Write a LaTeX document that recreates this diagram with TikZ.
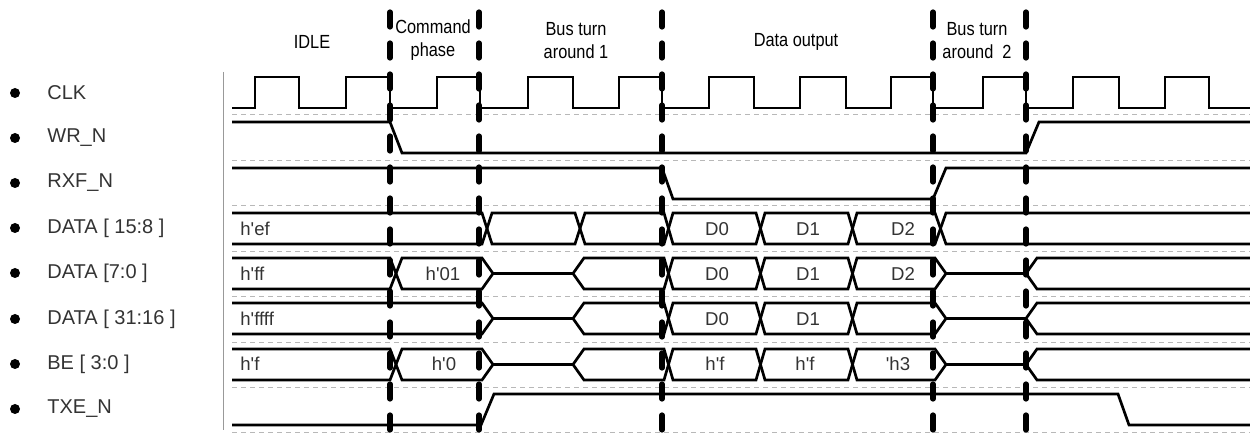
\documentclass[tikz,border=0pt]{standalone}
\usepackage{fontspec}
\setmainfont{Liberation Sans}[Ligatures=TeXOff]
\newfontfamily\narrowfont{Liberation Sans}[FakeStretch=0.86]
\usepackage{tikz}
\tikzstyle{wave} = [line width=1.35pt, line join=miter]
\tikzstyle{phase} = [line width=2.6pt, dash pattern=on 7.5pt off 8pt, line cap=round]
\tikzstyle{rowline} = [black!28, line width=0.5pt, dash pattern=on 2.5pt off 2pt]
\tikzstyle{bullet} = [fill=black, circle, inner sep=0pt, minimum size=5pt]
\tikzstyle{signame} = [anchor=west, inner sep=0pt, text=black!80, font={\fontsize{10}{12}\selectfont}]
\tikzstyle{val} = [inner sep=0pt, text=black!80, font={\fontsize{9.3}{11}\selectfont}]
\tikzstyle{title} = [align=center, inner sep=0pt, font={\narrowfont\fontsize{9.5}{11.5}\selectfont}]

\begin{document}
\begin{tikzpicture}[x=0.5pt, y=-0.5pt]
    \useasboundingbox (0,0) rectangle (1250,438);
    % phase titles
    \node[title](idle) at (312,42){IDLE};
    \node[title](cmd) at (433,40.5){Command\\phase};
    \node[title](bta1) at (576,40.5){Bus turn\\around 1};
    \node[title](dout) at (796,42){Data output};
    \node[title](bta2) at (977,40.5){Bus turn\\around\ \ 2};
    % signal names
    \node[bullet](b1) at (15,93){};
    \node[bullet](b2) at (15,138){};
    \node[bullet](b3) at (15,183){};
    \node[bullet](b4) at (15,228){};
    \node[bullet](b5) at (15,273){};
    \node[bullet](b6) at (15,319){};
    \node[bullet](b7) at (15,364){};
    \node[bullet](b8) at (15,409){};
    \node[signame](clk) at (47,93){CLK};
    \node[signame](wrn) at (47,138){WR\_N};
    \node[signame](rxfn) at (47,183){RXF\_N};
    \node[signame](dhi) at (47,228){DATA [ 15:8 ]};
    \node[signame](dlo) at (47,273){DATA [7:0 ]};
    \node[signame](dup) at (47,319){DATA [ 31:16 ]};
    \node[signame](be) at (47,364){BE [ 3:0 ]};
    \node[signame](txen) at (47,409){TXE\_N};
    \draw[black!40, line width=0.5pt] (223,72) -- (223,430);
    % row separators
    \draw[rowline] (232,115) -- (1250,115);
    \draw[rowline] (232,160.5) -- (1250,160.5);
    \draw[rowline] (232,206) -- (1250,206);
    \draw[rowline] (232,251.5) -- (1250,251.5);
    \draw[rowline] (232,297) -- (1250,297);
    \draw[rowline] (232,342.5) -- (1250,342.5);
    \draw[rowline] (232,388) -- (1250,388);
    \draw[rowline] (232,433) -- (1250,433);
    % CLK
    \draw[wave] (232,108) -- (255,108) -- (255,77) -- (299,77) -- (299,108) -- (346,108) -- (346,77)
      -- (390,77) -- (390,108) -- (437,108) -- (437,77) -- (480,77) -- (480,108) -- (528,108) -- (528,77)
      -- (573,77) -- (573,108) -- (619,108) -- (619,77) -- (662,77) -- (662,108) -- (709,108) -- (709,77)
      -- (754,77) -- (754,108) -- (800,108) -- (800,77) -- (846,77) -- (846,108) -- (891,108) -- (891,77)
      -- (933,77) -- (933,108) -- (983,108) -- (983,77) -- (1026,77) -- (1026,108) -- (1073,108) -- (1073,77)
      -- (1119,77) -- (1119,108) -- (1165,108) -- (1165,77) -- (1209,77) -- (1209,108) -- (1250,108);
    % WR_N, RXF_N, TXE_N
    \draw[wave] (232,122) -- (390,122) -- (402,153) -- (1026,153) -- (1039,122) -- (1250,122);
    \draw[wave] (232,168) -- (662,168) -- (673,199) -- (933,199) -- (946,168) -- (1250,168);
    \draw[wave] (232,425) -- (481,425) -- (494,394) -- (1118,394) -- (1129,425) -- (1250,425);
    % DATA [15:8]
    \draw[wave] (232,213) -- (482,213) -- (492,244) -- (575,244) -- (585,213) -- (664,213) -- (673,244)
      -- (756,244) -- (765,213) -- (848,213) -- (857,244) -- (935,244) -- (946,213) -- (1250,213);
    \draw[wave] (232,244) -- (482,244) -- (492,213) -- (575,213) -- (585,244) -- (664,244) -- (673,213)
      -- (756,213) -- (765,244) -- (848,244) -- (857,213) -- (935,213) -- (946,244) -- (1250,244);
    % DATA [7:0]
    \draw[wave] (232,258) -- (390,258) -- (402,289) -- (482,289) -- (493,273.5) -- (573,273.5) -- (584,258)
      -- (664,258) -- (673,289) -- (756,289) -- (765,258) -- (848,258) -- (857,289) -- (935,289)
      -- (946,273.5) -- (1026,273.5) -- (1037,258) -- (1250,258);
    \draw[wave] (232,289) -- (390,289) -- (402,258) -- (482,258) -- (493,273.5) -- (573,273.5) -- (584,289)
      -- (664,289) -- (673,258) -- (756,258) -- (765,289) -- (848,289) -- (857,258) -- (935,258)
      -- (946,273.5) -- (1026,273.5) -- (1037,289) -- (1250,289);
    % DATA [31:16]
    \draw[wave] (232,303) -- (482,303) -- (493,318.5) -- (573,318.5) -- (584,303) -- (664,303) -- (673,334)
      -- (756,334) -- (765,303) -- (848,303) -- (857,334) -- (935,334) -- (946,318.5) -- (1026,318.5)
      -- (1037,303) -- (1250,303);
    \draw[wave] (232,334) -- (482,334) -- (493,318.5) -- (573,318.5) -- (584,334) -- (664,334) -- (673,303)
      -- (756,303) -- (765,334) -- (848,334) -- (857,303) -- (935,303) -- (946,318.5) -- (1026,318.5)
      -- (1037,334) -- (1250,334);
    % BE [3:0]
    \draw[wave] (232,349) -- (390,349) -- (402,380) -- (482,380) -- (493,364.5) -- (573,364.5) -- (584,349)
      -- (664,349) -- (673,380) -- (756,380) -- (765,349) -- (848,349) -- (857,380) -- (935,380)
      -- (946,364.5) -- (1026,364.5) -- (1037,349) -- (1250,349);
    \draw[wave] (232,380) -- (390,380) -- (402,349) -- (482,349) -- (493,364.5) -- (573,364.5) -- (584,380)
      -- (664,380) -- (673,349) -- (756,349) -- (765,380) -- (848,380) -- (857,349) -- (935,349)
      -- (946,364.5) -- (1026,364.5) -- (1037,380) -- (1250,380);
    % bus values
    \node[val,anchor=west](hef) at (240,229){h'ef};
    \node[val,anchor=west](hff) at (240,274){h'ff};
    \node[val,anchor=west](hffff) at (240,319){h'ffff};
    \node[val,anchor=west](hf) at (240,364){h'f};
    \node[val](h01) at (443,274){h'01};
    \node[val](h0) at (444,364){h'0};
    \node[val](a0) at (717,229){D0};
    \node[val](a1) at (808,229){D1};
    \node[val](a2) at (903,229){D2};
    \node[val](b0) at (717,274){D0};
    \node[val](b1v) at (808,274){D1};
    \node[val](b2v) at (903,274){D2};
    \node[val](c0) at (717,319){D0};
    \node[val](c1) at (808,319){D1};
    \node[val](e0) at (715,364){h'f};
    \node[val](e1) at (805,364){h'f};
    \node[val](e2) at (898,364){'h3};
    % phase borders
    \draw[phase] (390,12) -- (390,438);
    \draw[phase] (479,12) -- (479,438);
    \draw[phase] (662,12) -- (662,438);
    \draw[phase] (933,12) -- (933,438);
    \draw[phase] (1026,12) -- (1026,438);
  \end{tikzpicture}
\end{document}
